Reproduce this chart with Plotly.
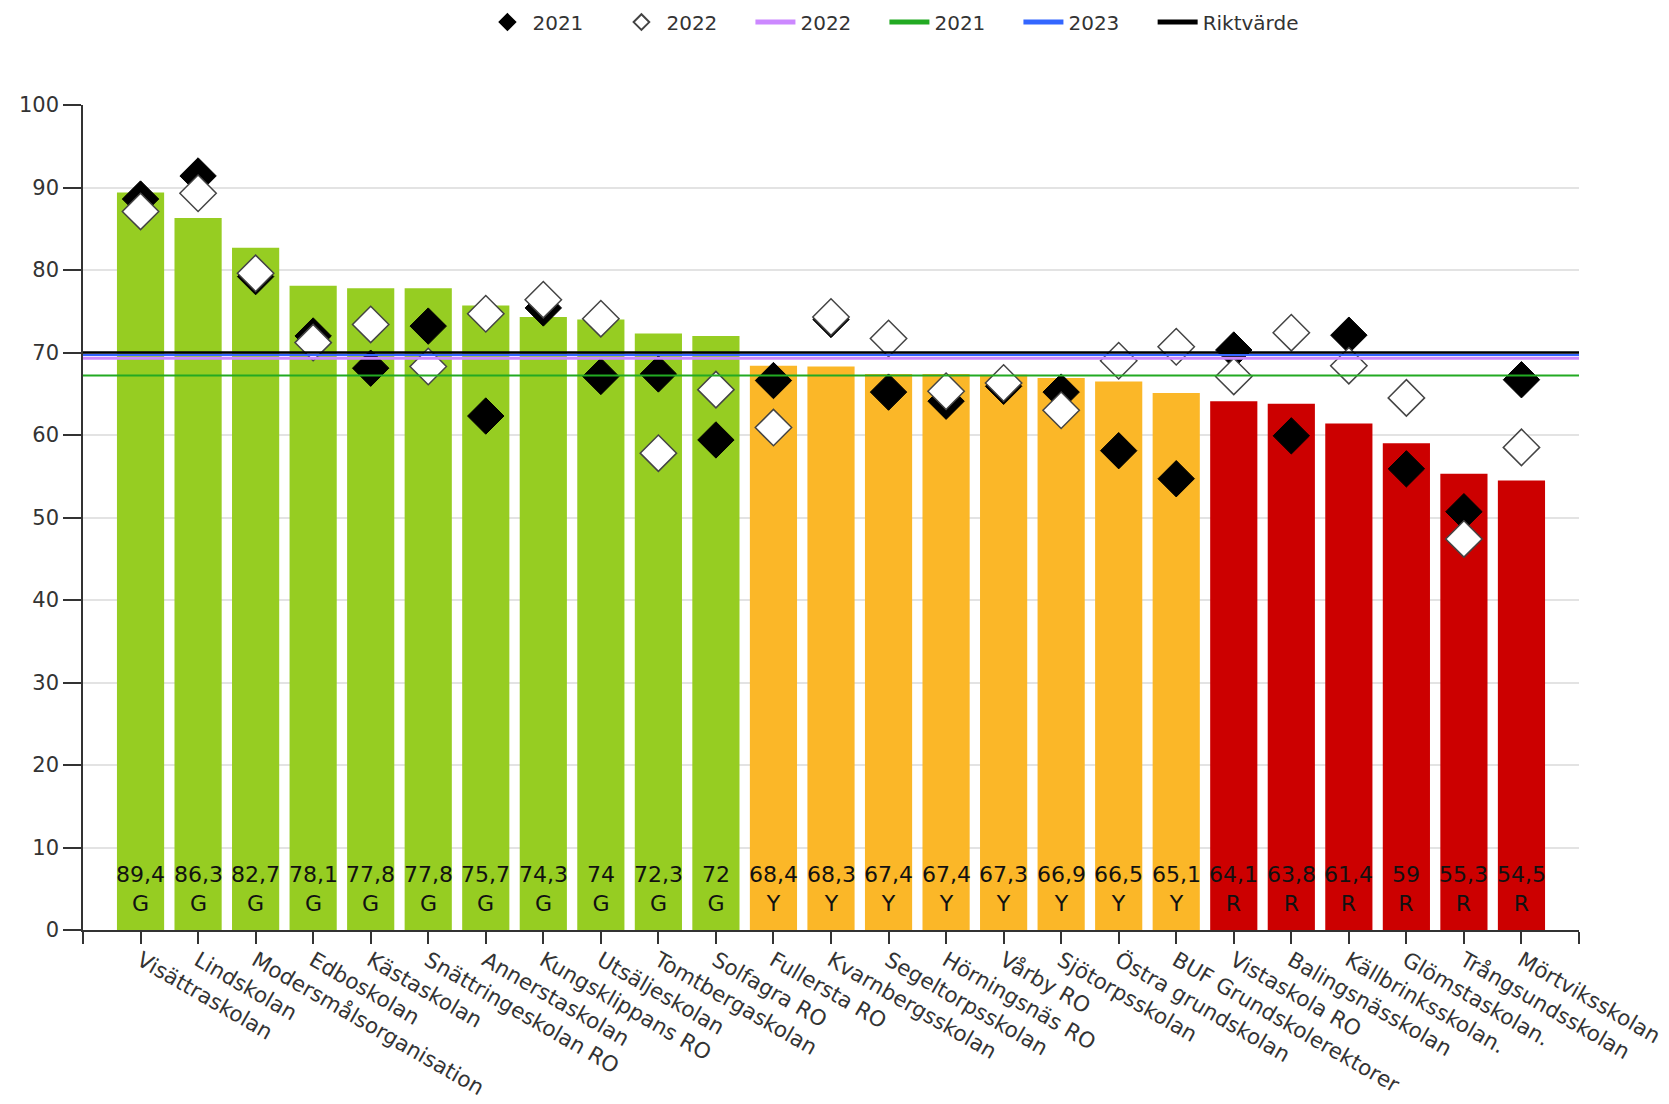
import plotly.graph_objects as go

schools = ["Visättraskolan", "Lindskolan", "Modersmålsorganisation", "Edboskolan",
           "Kästaskolan", "Snättringeskolan RO", "Annerstaskolan", "Kungsklippans RO",
           "Utsäljeskolan", "Tomtbergaskolan", "Solfagra RO", "Fullersta RO",
           "Kvarnbergsskolan", "Segeltorpsskolan", "Hörningsnäs RO", "Vårby RO",
           "Sjötorpsskolan", "Östra grundskolan", "BUF Grundskolerektorer",
           "Vistaskola RO", "Balingsnässkolan", "Källbrinksskolan.", "Glömstaskolan.",
           "Trångsundsskolan", "Mörtviksskolan"]
values_2023 = [89.4, 86.3, 82.7, 78.1, 77.8, 77.8, 75.7, 74.3, 74, 72.3, 72,
               68.4, 68.3, 67.4, 67.4, 67.3, 66.9, 66.5, 65.1,
               64.1, 63.8, 61.4, 59, 55.3, 54.5]
grades = ["G"] * 11 + ["Y"] * 8 + ["R"] * 6
values_2021 = [88.6, 91.4, 79.2, 72.0, 68.1, 73.2, 62.3, 75.4, 67.1, 67.4, 59.4,
               66.6, 74.0, 65.2, 64.1, 65.9, 65.2, 58.1, 54.7,
               70.3, 59.9, 72.1, 55.9, 50.7, 66.7]
values_2022 = [87.1, 89.3, 79.6, 71.2, 73.4, 68.3, 74.7, 76.4, 74.1, 57.8, 65.5,
               60.9, 74.3, 71.7, 65.3, 66.3, 63.0, 69.0, 70.7,
               67.1, 72.4, 68.4, 64.5, 47.4, 58.5]
ref_names = ["2022", "2021", "2023", "Riktvärde"]
ref_values = [69.3, 67.2, 69.7, 70.0]

grade_colors = {"G": "#96CD22", "Y": "#FBB728", "R": "#CC0000"}
ref_colors = {"2022": "#CC88FF", "2021": "#22AA22", "2023": "#3366FF", "Riktvärde": "#000000"}
ref_widths = {"2022": 3, "2021": 2, "2023": 2, "Riktvärde": 2.5}

idx = list(range(len(schools)))
x_lo, x_hi = -1, len(schools)

fig = go.Figure()
fig.add_trace(go.Bar(
    x=idx, y=values_2023, width=0.82,
    marker=dict(color=[grade_colors[g] for g in grades], line=dict(width=0)),
    showlegend=False, hoverinfo="skip"))

labels = [f"{v:g}".replace(".", ",") + "<br>" + g for v, g in zip(values_2023, grades)]
for i, t in zip(idx, labels):
    fig.add_annotation(x=i, y=0, xref="x", yref="y", text=t, showarrow=False,
                       yanchor="bottom", yshift=12,
                       font=dict(family="DejaVu Sans", size=22, color="#111111"))

fig.add_trace(go.Scatter(
    x=idx, y=values_2021, mode="markers", name="2021", legendrank=1,
    marker=dict(symbol="diamond", size=28, color="#000000",
                line=dict(color="#000000", width=1))))
fig.add_trace(go.Scatter(
    x=idx, y=values_2022, mode="markers", name="2022", legendrank=2,
    marker=dict(symbol="diamond", size=28, color="#FFFFFF",
                line=dict(color="#444444", width=1.5))))

order = {"2022": 3, "2021": 4, "2023": 5, "Riktvärde": 6}
draw_order = ["2021", "2022", "2023", "Riktvärde"]
for n in draw_order:
    v = ref_values[ref_names.index(n)]
    fig.add_trace(go.Scatter(
        x=[x_lo, x_hi], y=[v, v], mode="lines", name=n, legendrank=order[n],
        legend="legend2" if n == "Riktvärde" else "legend",
        line=dict(color=ref_colors[n], width=ref_widths[n]), hoverinfo="skip"))

legend_common = dict(orientation="h", y=1.1005, yanchor="middle",
                     font=dict(size=20, color="#333333"), itemsizing="constant",
                     traceorder="normal", itemwidth=40, bgcolor="rgba(0,0,0,0)")
fig.update_layout(
    width=1661, height=1096,
    margin=dict(l=75, r=90, t=97, b=174, autoexpand=False),
    paper_bgcolor="white", plot_bgcolor="white",
    font=dict(family="DejaVu Sans", size=20, color="#333333"),
    legend=dict(x=0.267, xanchor="left", entrywidth=79, entrywidthmode="pixels",
                **legend_common),
    legend2=dict(x=0.715, xanchor="left", **legend_common),
    bargap=0.18,
)
fig.update_xaxes(
    range=[x_lo, x_hi], tickmode="array",
    tickvals=[x_lo] + idx + [x_hi], ticktext=[""] + schools + [""],
    tickangle=30, ticks="outside", ticklen=12, tickcolor="#333333", tickwidth=1.5,
    showline=True, linecolor="#333333", linewidth=1.5, showgrid=False, zeroline=False,
    tickfont=dict(size=21.5, color="#333333"), ticklabelstandoff=-4)
fig.update_yaxes(
    range=[0, 100], tickvals=list(range(0, 101, 10)),
    ticks="outside", ticklen=18, tickcolor="#333333", tickwidth=1.5,
    showline=True, linecolor="#333333", linewidth=1.5,
    showgrid=True, gridcolor="#E3E3E3", gridwidth=1.5, zeroline=False,
    tickfont=dict(size=21, color="#333333"))

fig.write_html("out.html")
